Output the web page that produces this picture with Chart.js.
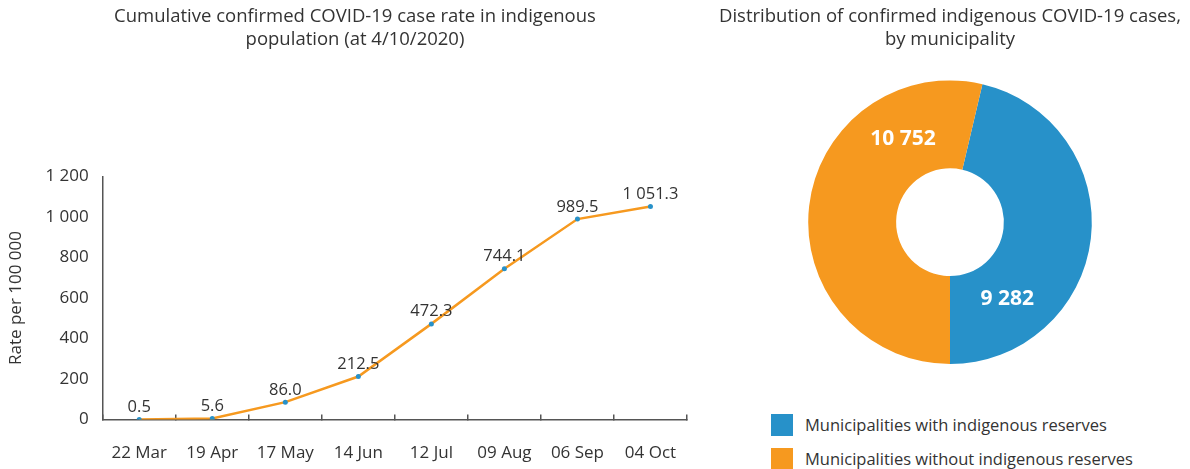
<!DOCTYPE html>
<html>
<head>
<meta charset="utf-8">
<script src="https://cdn.jsdelivr.net/npm/chart.js@4"></script>
<style>
  body { margin: 0; background: #fff; font-family: "Open Sans", sans-serif; color: #333; overflow: hidden; }
  #wrap { position: relative; width: 1190px; height: 469px; overflow: hidden; }
  #lineBox { position: absolute; left: 0; top: 0; width: 710px; height: 491px; }
  #pieBox { position: absolute; left: 715px; top: 0; width: 470px; height: 380px; }
  .leg { position: absolute; left: 771px; font-size: 16.5px; color: #333; }
  .leg span { position: absolute; left: 0; width: 22px; height: 22px; }
  .leg div { position: absolute; left: 34px; top: 0; white-space: nowrap; line-height: 22px; }
</style>
</head>
<body>
<div id="wrap">
  <div id="lineBox"><canvas id="rate-chart"></canvas></div>
  <div id="pieBox"><canvas id="muni-chart"></canvas></div>
  <div class="leg" style="top:414px"><span style="background:#2791c9"></span><div>Municipalities with indigenous reserves</div></div>
  <div class="leg" style="top:448px"><span style="background:#f6991f"></span><div>Municipalities without indigenous reserves</div></div>
</div>
<script>
const dates = ['22 Mar', '19 Apr', '17 May', '14 Jun', '12 Jul', '09 Aug', '06 Sep', '04 Oct'];
const rates = [0.5, 5.6, 86.0, 212.5, 472.3, 744.1, 989.5, 1051.3];
const muniLabels = ['Municipalities with indigenous reserves', 'Municipalities without indigenous reserves'];
const muniCases = [9282, 10752];

const BLUE = '#2791c9';
const ORANGE = '#f6991f';
const TEXT = '#333333';

// 1 051.3 style
function spaced(v, dec) {
  let s = v.toFixed(dec);
  let parts = s.split('.');
  parts[0] = parts[0].replace(/\B(?=(\d{3})+(?!\d))/g, ' ');
  return parts.join('.');
}

Chart.defaults.font.family = '"Open Sans", sans-serif';
Chart.defaults.color = TEXT;

const pointLabels = {
  id: 'pointLabels',
  afterDatasetsDraw(chart) {
    const ctx = chart.ctx;
    const meta = chart.getDatasetMeta(0);
    ctx.save();
    ctx.font = '16.5px "Open Sans", sans-serif';
    ctx.fillStyle = TEXT;
    ctx.textAlign = 'center';
    ctx.textBaseline = 'bottom';
    meta.data.forEach((pt, i) => {
      ctx.fillText(spaced(rates[i], 1), pt.x, pt.y - 4);
    });
    ctx.restore();
  }
};

var ctx = document.getElementById('rate-chart').getContext('2d');
new Chart(ctx, {
  type: 'line',
  data: {
    labels: dates,
    datasets: [{
      data: rates,
      borderColor: ORANGE,
      borderWidth: 2.5,
      pointBackgroundColor: BLUE,
      pointBorderWidth: 0,
      pointRadius: 2.5,
      tension: 0
    }]
  },
  options: {
    responsive: true,
    maintainAspectRatio: false,
    animation: false,
    layout: { padding: { left: 23, right: 23, bottom: 0 } },
    plugins: {
      legend: { display: false },
      tooltip: { enabled: false },
      title: {
        display: true,
        text: ['Cumulative confirmed COVID-19 case rate in indigenous', 'population (at 4/10/2020)'],
        font: { size: 18.5, weight: 'normal' },
        color: TEXT,
        padding: { top: 6, bottom: 126 },
        lineHeight: 1.4
      }
    },
    scales: {
      x: {
        offset: true,
        grid: { offset: true, drawOnChartArea: false, drawTicks: true, tickLength: -5, color: '#555', lineWidth: 1.5 },
        border: { color: '#555', width: 1.5 },
        ticks: { font: { size: 17 }, color: TEXT, padding: 28 }
      },
      y: {
        min: 0,
        max: 1200,
        grid: { display: false, drawTicks: false, tickLength: 0 },
        border: { color: '#555', width: 1.5 },
        ticks: { stepSize: 200, font: { size: 17 }, color: TEXT, padding: 14, callback: v => spaced(v, 0) },
        title: { display: true, text: 'Rate per 100 000', font: { size: 17 }, color: TEXT, padding: { top: -17, bottom: 5 } }
      }
    }
  },
  plugins: [pointLabels]
});

const sliceLabels = {
  id: 'sliceLabels',
  afterDatasetsDraw(chart) {
    const c = chart.ctx;
    const meta = chart.getDatasetMeta(0);
    c.save();
    c.font = 'bold 21px "Open Sans", sans-serif';
    c.fillStyle = '#ffffff';
    c.textAlign = 'center';
    c.textBaseline = 'middle';
    meta.data.forEach((arc, i) => {
      const p = arc.getProps(['x', 'y', 'startAngle', 'endAngle', 'innerRadius', 'outerRadius']);
      const a = p.startAngle + 0.78 * (p.endAngle - p.startAngle);
      const r = (p.innerRadius + p.outerRadius) / 2 - 2;
      c.fillText(spaced(muniCases[i], 0), p.x + r * Math.cos(a), p.y + r * Math.sin(a));
    });
    c.restore();
  }
};

const total = muniCases[0] + muniCases[1];
var ctx2 = document.getElementById('muni-chart').getContext('2d');
new Chart(ctx2, {
  type: 'doughnut',
  data: {
    labels: muniLabels,
    datasets: [{
      data: muniCases,
      backgroundColor: [BLUE, ORANGE],
      borderWidth: 0
    }]
  },
  options: {
    responsive: true,
    maintainAspectRatio: false,
    animation: false,
    cutout: '38%',
    rotation: 180 - 360 * muniCases[0] / total,
    layout: { padding: { bottom: 16 } },
    plugins: {
      legend: { display: false },
      tooltip: { enabled: false },
      title: {
        display: true,
        text: ['Distribution of confirmed indigenous COVID-19 cases,', 'by municipality'],
        font: { size: 18.5, weight: 'normal' },
        color: TEXT,
        padding: { top: 6, bottom: 30 },
        lineHeight: 1.4
      }
    }
  },
  plugins: [sliceLabels]
});
</script>
</body>
</html>
